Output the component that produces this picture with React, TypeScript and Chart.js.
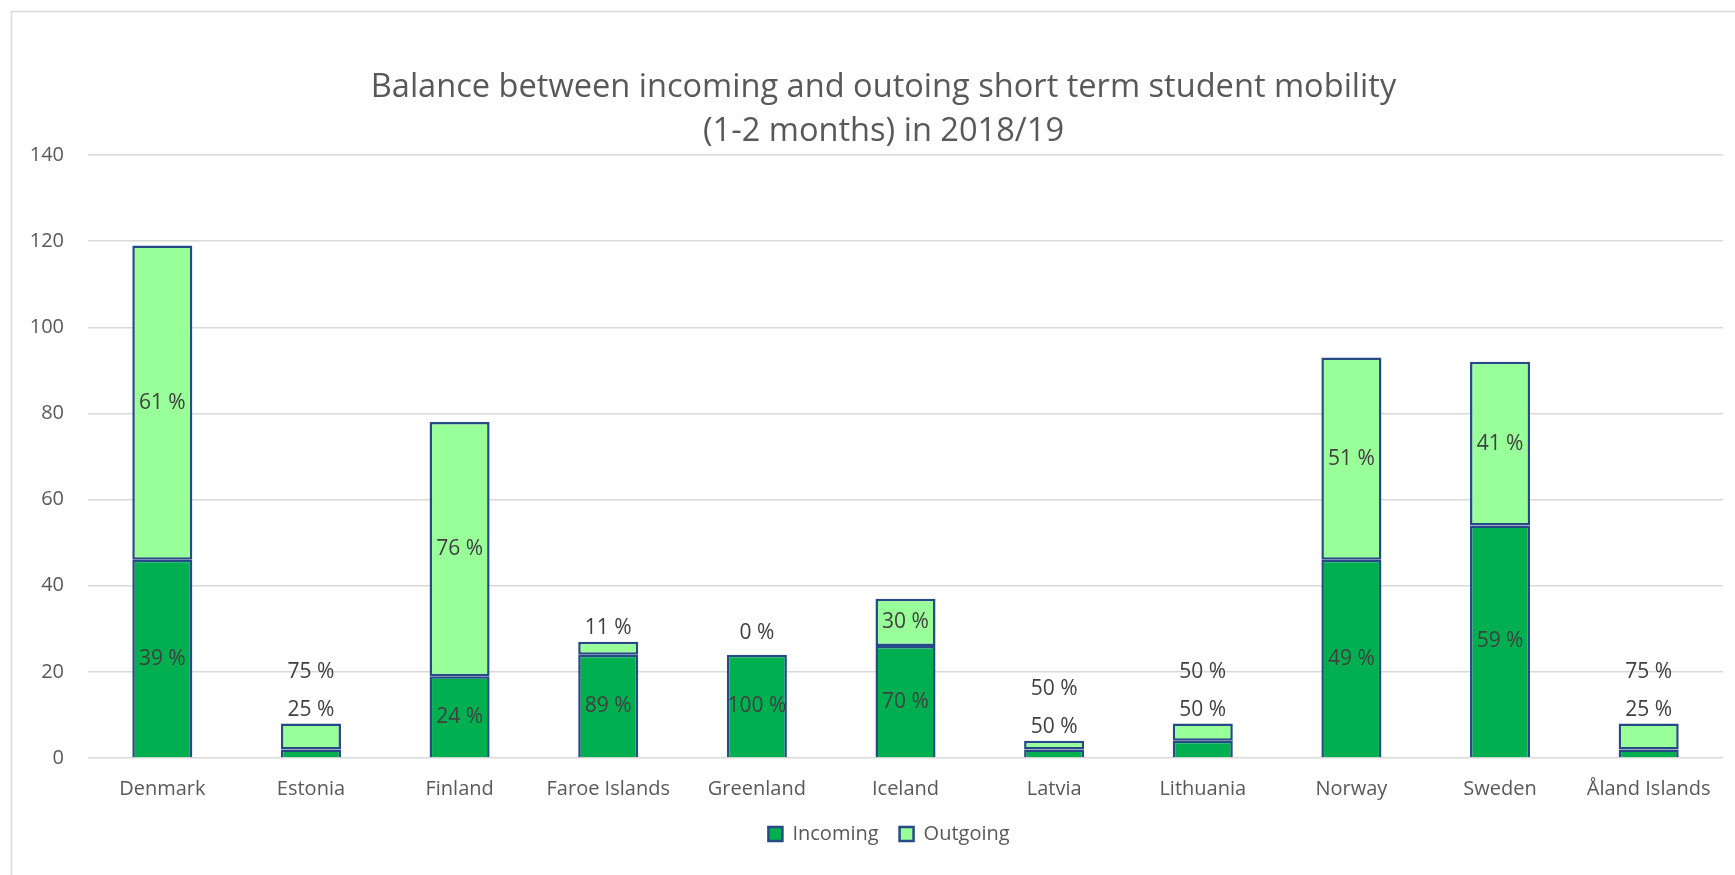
import React, { useEffect, useRef } from 'react';
import { Chart, registerables } from 'chart.js';

Chart.register(...registerables);

const categories = [
  'Denmark', 'Estonia', 'Finland', 'Faroe Islands', 'Greenland', 'Iceland',
  'Latvia', 'Lithuania', 'Norway', 'Sweden', 'Åland Islands',
];
const incoming = [46, 2, 19, 24, 24, 26, 2, 4, 46, 54, 2];
const outgoing = [73, 6, 59, 3, 0, 11, 2, 4, 47, 38, 6];
const incomingLabels = ['39 %', '25 %', '24 %', '89 %', '100 %', '70 %', '50 %', '50 %', '49 %', '59 %', '25 %'];
const outgoingLabels = ['61 %', '75 %', '76 %', '11 %', '0 %', '30 %', '50 %', '50 %', '51 %', '41 %', '75 %'];
const yMin = 0;
const yMax = 140;
const yStep = 20;
const titleLines = [
  'Balance between incoming and outoing short term student mobility',
  '(1-2 months) in 2018/19',
];
const seriesNames = ['Incoming', 'Outgoing'];

const FONT = '"Open Sans", "Noto Sans", sans-serif';
const GREY = '#595959';
const BORDER = '#264A85';

const framePlugin = {
  id: 'frame',
  beforeDraw(chart: any) {
    const { ctx, width, height } = chart;
    ctx.save();
    ctx.fillStyle = '#ffffff';
    ctx.fillRect(0, 0, width, height);
    ctx.strokeStyle = '#D9D9D9';
    ctx.lineWidth = 1.5;
    ctx.beginPath();
    ctx.moveTo(11.5, height);
    ctx.lineTo(11.5, 11.5);
    ctx.lineTo(width, 11.5);
    ctx.stroke();
    ctx.restore();
  },
};

// The original chart frame extends past the cropped right edge, so its
// title and legend are centred a little to the right of the canvas centre.
const offsetPlugin = {
  id: 'offsets',
  afterLayout(chart: any) {
    if (chart.titleBlock) chart.titleBlock.left = 44;
    if (chart.legend) chart.legend.left = 55;
  },
};

const labelPlugin = {
  id: 'segLabels',
  afterDatasetsDraw(chart: any) {
    const ctx = chart.ctx;
    const metas = [chart.getDatasetMeta(0), chart.getDatasetMeta(1)];
    const labels = [incomingLabels, outgoingLabels];
    ctx.save();
    ctx.font = `21px ${FONT}`;
    ctx.fillStyle = '#404040';
    ctx.textAlign = 'center';
    ctx.textBaseline = 'middle';
    categories.forEach((_, i) => {
      const els = metas.map((m) => m.data[i]);
      const top = Math.min(...els.map((e: any) => Math.min(e.y, e.base)));
      let pushed = false;
      let n = 0;
      els.forEach((el: any, k: number) => {
        const h = Math.abs(el.base - el.y);
        let y: number;
        if (!pushed && h >= 30) {
          y = (el.y + el.base) / 2;
        } else {
          pushed = true;
          y = top - (h === 0 ? 22 : 14) - 38 * n;
          n++;
        }
        ctx.fillText(labels[k][i], el.x, y);
      });
    });
    ctx.restore();
  },
};

export default function App() {
  const ref = useRef<HTMLCanvasElement>(null);

  useEffect(() => {
    if (!ref.current) return;
    const chart = new Chart(ref.current, {
      type: 'bar',
      data: {
        labels: categories,
        datasets: [
          {
            label: seriesNames[0],
            data: incoming,
            backgroundColor: '#00B050',
            borderColor: BORDER,
            borderWidth: 2.5,
            borderSkipped: 'start',
            barPercentage: 0.404,
            categoryPercentage: 1,
          },
          {
            label: seriesNames[1],
            data: outgoing,
            backgroundColor: '#99FF99',
            borderColor: BORDER,
            borderWidth: 2.5,
            borderSkipped: false,
            barPercentage: 0.404,
            categoryPercentage: 1,
          },
        ],
      },
      options: {
        responsive: false,
        animation: false,
        layout: { padding: { left: 0, right: 12, top: 0, bottom: 21 } },
        plugins: {
          title: {
            display: true,
            text: titleLines,
            color: GREY,
            font: { family: FONT, size: 32.6, weight: 'normal', lineHeight: 44 / 32.6 },
            padding: { top: 66, bottom: 1 },
          },
          legend: {
            position: 'bottom',
            fullSize: false,
            labels: {
              color: GREY,
              font: { family: FONT, size: 20 },
              boxWidth: 14,
              boxHeight: 14,
              padding: 21,
            },
          },
          tooltip: { enabled: false },
        },
        scales: {
          x: {
            stacked: true,
            grid: { display: false, drawTicks: false },
            border: { display: false },
            ticks: {
              color: GREY,
              font: { family: FONT, size: 20 },
              padding: 19,
              maxRotation: 0,
              autoSkip: false,
            },
            afterFit(scale: any) {
              scale.height = 45;
            },
          },
          y: {
            stacked: true,
            min: yMin,
            max: yMax,
            ticks: {
              stepSize: yStep,
              color: GREY,
              font: { family: FONT, size: 20 },
              padding: 24,
            },
            grid: { color: '#D9D9D9', lineWidth: 1.5, drawTicks: false },
            border: { display: false },
            afterFit(scale: any) {
              scale.width = 88;
            },
          },
        },
      } as any,
      plugins: [framePlugin, offsetPlugin, labelPlugin],
    });
    return () => chart.destroy();
  }, []);

  return (
    <div style={{ position: 'absolute', left: 0, top: 0, width: 1735, height: 875 }}>
      <canvas ref={ref} width={1735} height={875} style={{ display: 'block', width: 1735, height: 875 }} />
    </div>
  );
}
